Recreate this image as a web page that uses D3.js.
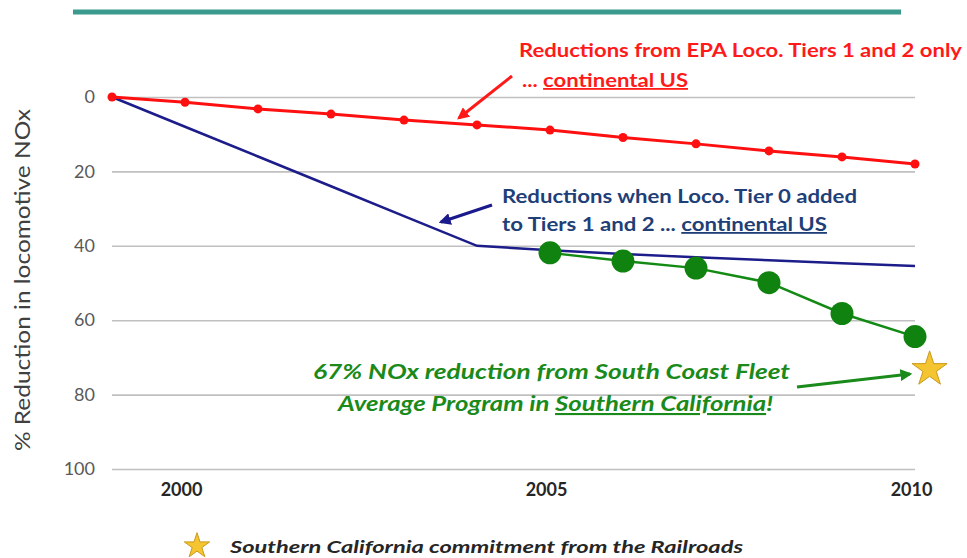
<!DOCTYPE html>
<html>
<head>
<meta charset="utf-8">
<script src="https://cdn.jsdelivr.net/npm/d3@7"></script>
<style>
  body { margin: 0; background: #fff; }
  svg { display: block; font-family: Lato, "Open Sans", sans-serif; }
</style>
</head>
<body>
<script>
// values
var years = [1999, 2000, 2001, 2002, 2003, 2004, 2005, 2006, 2007, 2008, 2009, 2010];
var epaTiers12 = [0, 1.4, 3.2, 4.6, 6.2, 7.5, 8.9, 10.9, 12.6, 14.5, 16.1, 18.0];
var withTier0 = [0, 8, 16, 24, 32, 40, 41.2, 42.2, 43.1, 43.9, 44.7, 45.4];
var fleetYears = [2005, 2006, 2007, 2008, 2009, 2010];
var fleetAvg = [41.9, 44.1, 46.0, 49.9, 58.2, 64.4];
var commitment = [{year: 2010.2, value: 73.2}];
var yTicks = [0, 20, 40, 60, 80, 100];
var xTicks = [2000, 2005, 2010];

var margin = {top: 97, left: 112};
var width = 803;
var height = 372;

var svg = d3.select("body")
    .append("svg")
    .attr("width", 967)
    .attr("height", 558);

var defs = svg.append("defs");
function arrowHead(id, color) {
    defs.append("marker")
        .attr("id", id)
        .attr("viewBox", "0 0 10 10")
        .attr("refX", 8)
        .attr("refY", 5)
        .attr("markerWidth", 4)
        .attr("markerHeight", 4)
        .attr("orient", "auto")
        .append("path")
        .attr("d", "M0,0 L10,5 L0,10 z")
        .attr("fill", color);
}
arrowHead("arr-red", "#ff1a1a");
arrowHead("arr-blue", "#1a1a8c");
arrowHead("arr-green", "#1a8a1a");

// teal rule at the top
svg.append("line")
    .attr("x1", 73).attr("x2", 901)
    .attr("y1", 12).attr("y2", 12)
    .attr("stroke", "#3a9a8e")
    .attr("stroke-width", 5);

var g = svg.append("g")
    .attr("transform", "translate(" + margin.left + ", " + margin.top + ")");

var x = d3.scaleLinear()
    .domain([1999, 2010])
    .range([0, width]);

var y = d3.scaleLinear()
    .domain([0, 100])
    .range([0, height]);

// y axis with gridlines
var leftAxis = d3.axisLeft(y)
    .tickValues(yTicks)
    .tickSize(-width)
    .tickPadding(17);
var yAxisG = g.append("g").attr("class", "left axis").call(leftAxis);
yAxisG.select(".domain").remove();
yAxisG.selectAll("line").attr("stroke", "#c0c0c0").attr("stroke-width", 1.6);
yAxisG.selectAll("text")
    .attr("font-size", "18px")
    .attr("fill", "#595959")
    .attr("font-family", "Lato, sans-serif");

// x axis labels
var bottomAxis = d3.axisBottom(x)
    .tickValues(xTicks)
    .tickSize(0)
    .tickFormat(d3.format("d"));
var xAxisG = g.append("g")
    .attr("class", "bottom axis")
    .attr("transform", "translate(0, " + height + ")")
    .call(bottomAxis);
xAxisG.select(".domain").remove();
xAxisG.selectAll("text")
    .attr("y", 14)
    .attr("dx", -4)
    .attr("font-size", "18px")
    .attr("font-weight", "bold")
    .attr("fill", "#262626")
    .attr("font-family", "Lato, sans-serif");

// y title
svg.append("text")
    .attr("transform", "translate(30, 280) rotate(-90)")
    .attr("text-anchor", "middle")
    .attr("font-size", "21px")
    .attr("fill", "#404040")
    .attr("textLength", 342)
    .attr("lengthAdjust", "spacingAndGlyphs")
    .text("% Reduction in locomotive NOx");

// series
var line = d3.line()
    .x((d) => x(d[0]))
    .y((d) => y(d[1]));

var redData = years.map((yr, i) => [yr, epaTiers12[i]]);
var blueData = years.map((yr, i) => [yr, withTier0[i]]);
var greenData = fleetYears.map((yr, i) => [yr, fleetAvg[i]]);

g.append("path")
    .datum(blueData)
    .attr("d", line)
    .attr("fill", "none")
    .attr("stroke", "#1c1c8a")
    .attr("stroke-width", 2.5);

g.append("path")
    .datum(redData)
    .attr("d", line)
    .attr("fill", "none")
    .attr("stroke", "#ff1010")
    .attr("stroke-width", 3);

g.selectAll(".red-dot")
    .data(redData)
    .enter()
    .append("circle")
    .attr("class", "red-dot")
    .attr("cx", (d) => x(d[0]))
    .attr("cy", (d) => y(d[1]))
    .attr("r", 4.5)
    .attr("fill", "#ff1010");

g.append("path")
    .datum(greenData)
    .attr("d", line)
    .attr("fill", "none")
    .attr("stroke", "#138a13")
    .attr("stroke-width", 2.5);

g.selectAll(".green-dot")
    .data(greenData)
    .enter()
    .append("circle")
    .attr("class", "green-dot")
    .attr("cx", (d) => x(d[0]))
    .attr("cy", (d) => y(d[1]))
    .attr("r", 11.5)
    .attr("fill", "#0f820f");

var star = d3.symbol().type(d3.symbolStar);
g.selectAll(".star")
    .data(commitment)
    .enter()
    .append("path")
    .attr("class", "star")
    .attr("transform", (d) => "translate(" + x(d.year) + ", " + y(d.value) + ")")
    .attr("d", star.size(380))
    .attr("fill", "#f4c431")
    .attr("stroke", "#c99a1c")
    .attr("stroke-width", 1);

// annotations
function note(lines, color, italic) {
    lines.forEach((l) => {
        var t = svg.append("text")
            .attr("x", l.x)
            .attr("y", l.y)
            .attr("font-size", l.size + "px")
            .attr("font-weight", "bold")
            .attr("font-style", italic ? "italic" : "normal")
            .attr("fill", color)
            .attr("textLength", l.w)
            .attr("lengthAdjust", "spacingAndGlyphs");
        l.parts.forEach((p) => {
            t.append("tspan")
                .attr("text-decoration", p.u ? "underline" : "none")
                .text(p.t);
        });
    });
}

note([
    {x: 519, y: 57, size: 18, w: 443, parts: [{t: "Reductions  from EPA Loco. Tiers 1 and 2 only"}]},
    {x: 522, y: 87, size: 18, w: 166, parts: [{t: "... "}, {t: "continental US", u: true}]}
], "#ff1a1a", false);

note([
    {x: 502, y: 203, size: 18, w: 355, parts: [{t: "Reductions  when Loco. Tier 0 added"}]},
    {x: 502, y: 231, size: 18, w: 325, parts: [{t: "to Tiers 1 and 2 ... "}, {t: "continental US", u: true}]}
], "#1f3f78", false);

note([
    {x: 313, y: 379, size: 21, w: 477, parts: [{t: "67% NOx reduction from South Coast Fleet"}]},
    {x: 338, y: 411, size: 21, w: 435, parts: [{t: "Average Program in "}, {t: "Southern California", u: true}, {t: "!"}]}
], "#1a8a1a", true);

note([
    {x: 230, y: 553, size: 17, w: 513, parts: [{t: "Southern California commitment from the Railroads"}]}
], "#262626", true);

// arrows
svg.append("line")
    .attr("x1", 512).attr("y1", 76).attr("x2", 459).attr("y2", 118)
    .attr("stroke", "#ff1a1a").attr("stroke-width", 3)
    .attr("marker-end", "url(#arr-red)");
svg.append("line")
    .attr("x1", 492).attr("y1", 205).attr("x2", 441).attr("y2", 222)
    .attr("stroke", "#1a1a8c").attr("stroke-width", 3)
    .attr("marker-end", "url(#arr-blue)");
svg.append("line")
    .attr("x1", 797).attr("y1", 387).attr("x2", 910).attr("y2", 374)
    .attr("stroke", "#1a8a1a").attr("stroke-width", 3)
    .attr("marker-end", "url(#arr-green)");

// legend star
svg.append("path")
    .attr("transform", "translate(197, 546)")
    .attr("d", d3.symbol().type(d3.symbolStar).size(200)())
    .attr("fill", "#f4c431")
    .attr("stroke", "#c99a1c")
    .attr("stroke-width", 1);
</script>
</body>
</html>
